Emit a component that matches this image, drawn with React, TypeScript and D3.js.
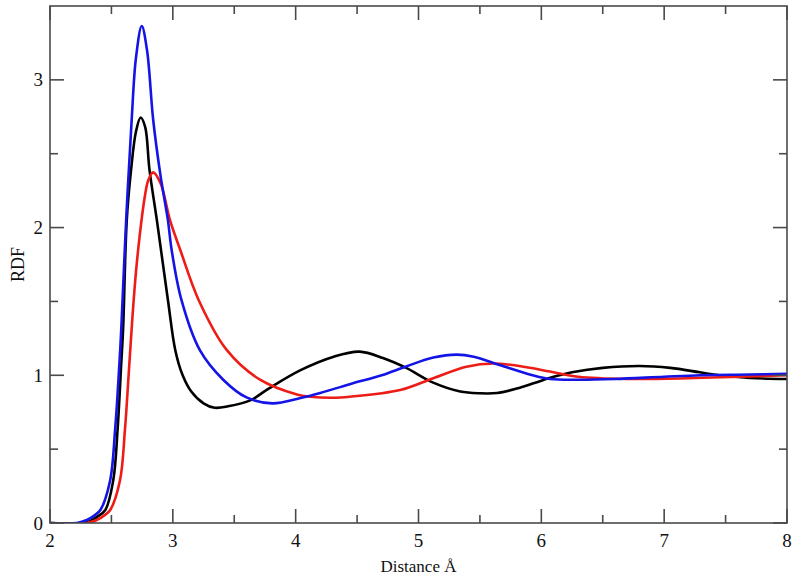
import React from "react";
import * as d3 from "d3";

const blackX = [2.0, 2.25, 2.32, 2.38, 2.45, 2.515, 2.55, 2.58, 2.595, 2.625, 2.66, 2.70, 2.738, 2.775, 2.81, 2.87, 2.96, 3.02, 3.08, 3.15, 3.25, 3.34, 3.45, 3.63, 3.78, 4.04, 4.31, 4.52, 4.71, 4.9, 5.12, 5.34, 5.5, 5.64, 5.8, 5.95, 6.1, 6.25, 6.5, 6.8, 7.05, 7.29, 7.45, 7.7, 8.0];
const blackY = [0, 0, 0.01, 0.04, 0.088, 0.29, 0.63, 1.08, 1.31, 2.05, 2.39, 2.65, 2.745, 2.68, 2.39, 2.05, 1.51, 1.17, 1.0, 0.89, 0.81, 0.78, 0.79, 0.83, 0.91, 1.035, 1.126, 1.16, 1.117, 1.05, 0.95, 0.89, 0.878, 0.88, 0.91, 0.95, 0.99, 1.02, 1.05, 1.063, 1.05, 1.02, 1.0, 0.982, 0.975];

const blueX = [2.0, 2.22, 2.3, 2.36, 2.41, 2.49, 2.53, 2.565, 2.58, 2.62, 2.665, 2.70, 2.747, 2.79, 2.84, 2.90, 2.96, 2.99, 3.07, 3.22, 3.41, 3.60, 3.81, 4.04, 4.2, 4.44, 4.7, 4.9, 5.12, 5.31, 5.45, 5.66, 5.93, 6.07, 6.3, 6.6, 7.0, 7.3, 7.7, 8.0];
const blueY = [0, 0, 0.02, 0.05, 0.088, 0.29, 0.63, 1.08, 1.31, 2.05, 2.73, 3.15, 3.365, 3.2, 2.73, 2.35, 2.05, 1.85, 1.51, 1.17, 0.97, 0.85, 0.81, 0.846, 0.88, 0.94, 1.0, 1.06, 1.12, 1.14, 1.126, 1.07, 1.0, 0.975, 0.97, 0.975, 0.99, 1.0, 1.005, 1.01];

const redX = [2.0, 2.3, 2.38, 2.44, 2.49, 2.57, 2.61, 2.64, 2.67, 2.70, 2.735, 2.77, 2.80, 2.84, 2.90, 2.977, 3.06, 3.21, 3.44, 3.71, 4.01, 4.12, 4.3, 4.44, 4.85, 5.12, 5.39, 5.61, 5.88, 6.07, 6.3, 6.7, 7.2, 7.6, 8.0];
const redY = [0, 0, 0.02, 0.05, 0.088, 0.29, 0.63, 1.0, 1.38, 1.70, 1.98, 2.2, 2.32, 2.374, 2.3, 2.05, 1.85, 1.51, 1.17, 0.97, 0.87, 0.855, 0.848, 0.855, 0.9, 0.98, 1.058, 1.08, 1.055, 1.025, 0.99, 0.975, 0.98, 0.99, 1.0];

const xMajor = [2, 3, 4, 5, 6, 7, 8];
const xMinor = [2.5, 3.5, 4.5, 5.5, 6.5, 7.5];
const yMajor = [0, 1, 2, 3];
const yMinor = [0.5, 1.5, 2.5];

const W = 800, H = 579;
const L = 50, R = 787, T = 6, B = 523;

export default function App() {
  const x = d3.scaleLinear().domain([2, 8]).range([L, R]);
  const y = d3.scaleLinear().domain([0, 3.5]).range([B, T]);
  const line = d3.line<[number, number]>().x(d => x(d[0])).y(d => y(d[1])).curve(d3.curveCatmullRom.alpha(0.5));
  const series = [
    { xs: blackX, ys: blackY, color: "#000000" },
    { xs: redX, ys: redY, color: "#ee1c16" },
    { xs: blueX, ys: blueY, color: "#1414e6" },
  ];
  const axisColor = "#4a4a4a";
  const font = "'Liberation Serif', 'Times New Roman', serif";
  return (
    <svg width={W} height={H} style={{ position: "absolute", left: 0, top: 0, background: "#fff" }}>
      <defs>
        <clipPath id="plot"><rect x={L} y={T} width={R - L} height={B - T} /></clipPath>
      </defs>
      <g clipPath="url(#plot)">
        {series.map((s, i) => (
          <path key={i} d={line(s.xs.map((v, j) => [v, s.ys[j]] as [number, number])) || ""} fill="none" stroke={s.color} strokeWidth={2.6} strokeLinejoin="round" />
        ))}
      </g>
      <rect x={L} y={T} width={R - L} height={B - T} fill="none" stroke={axisColor} strokeWidth={1.6} />
      {xMajor.map(v => (
        <g key={"xm" + v}>
          <line x1={x(v)} x2={x(v)} y1={B} y2={B - 14} stroke={axisColor} strokeWidth={1.6} />
          <line x1={x(v)} x2={x(v)} y1={T} y2={T + 14} stroke={axisColor} strokeWidth={1.6} />
          <text x={x(v)} y={547} textAnchor="middle" fontFamily={font} fontSize={19} fill="#111">{v}</text>
        </g>
      ))}
      {xMinor.map(v => (
        <g key={"xn" + v}>
          <line x1={x(v)} x2={x(v)} y1={B} y2={B - 8} stroke={axisColor} strokeWidth={1.6} />
          <line x1={x(v)} x2={x(v)} y1={T} y2={T + 8} stroke={axisColor} strokeWidth={1.6} />
        </g>
      ))}
      {yMajor.map(v => (
        <g key={"ym" + v}>
          <line x1={L} x2={L + 14} y1={y(v)} y2={y(v)} stroke={axisColor} strokeWidth={1.6} />
          <line x1={R} x2={R - 14} y1={y(v)} y2={y(v)} stroke={axisColor} strokeWidth={1.6} />
          <text x={43} y={y(v) + 6.5} textAnchor="end" fontFamily={font} fontSize={19} fill="#111">{v}</text>
        </g>
      ))}
      {yMinor.map(v => (
        <g key={"yn" + v}>
          <line x1={L} x2={L + 8} y1={y(v)} y2={y(v)} stroke={axisColor} strokeWidth={1.6} />
          <line x1={R} x2={R - 8} y1={y(v)} y2={y(v)} stroke={axisColor} strokeWidth={1.6} />
        </g>
      ))}
      <text x={(L + R) / 2} y={572} textAnchor="middle" fontFamily={font} fontSize={17} fill="#111">Distance Å</text>
      <text transform={`translate(24, ${(T + B) / 2}) rotate(-90)`} textAnchor="middle" fontFamily={font} fontSize={18} fill="#111">RDF</text>
    </svg>
  );
}
